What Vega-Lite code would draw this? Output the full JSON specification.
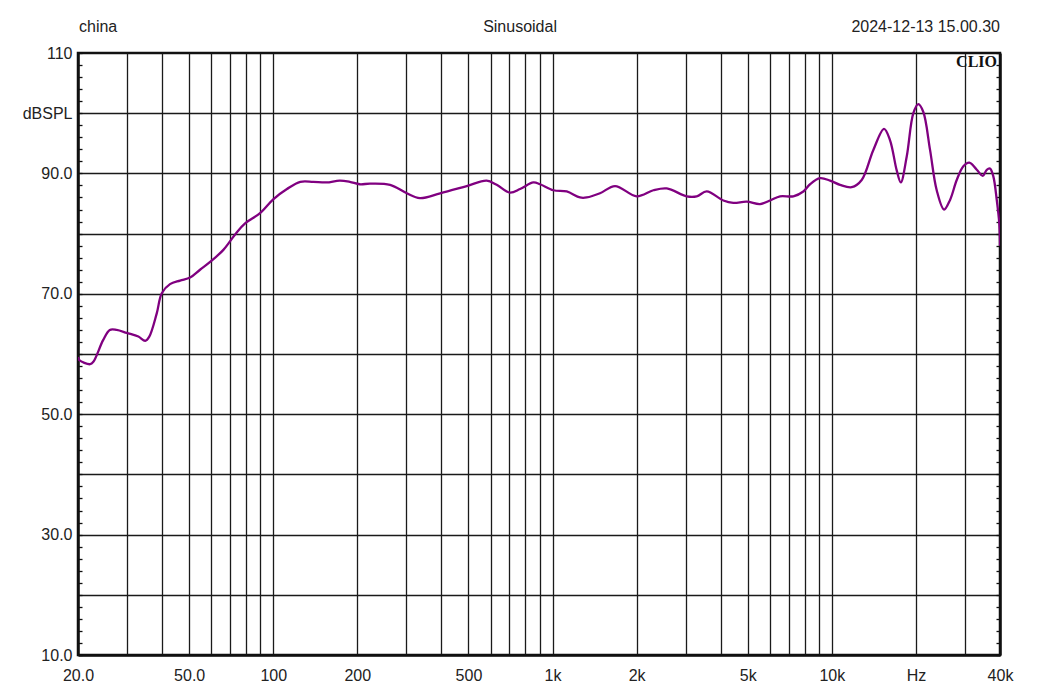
{
  "$schema": "https://vega.github.io/schema/vega-lite/v6.json",
  "width": 922,
  "height": 602,
  "autosize": "none",
  "padding": {"left": 78, "top": 53, "right": 40, "bottom": 33},
  "background": "white",
  "config": {
    "view": {"stroke": "#111111", "strokeWidth": 2.5},
    "font": "Liberation Sans"
  },
  "layer": [
    {
      "data": {
        "values": [
          {"f": 20, "db": 59.5}, {"f": 20.2, "db": 59.0}, {"f": 22.1, "db": 58.3}, {"f": 22.7, "db": 58.7},
          {"f": 24.6, "db": 62.3}, {"f": 26.0, "db": 64.0}, {"f": 27.5, "db": 64.0}, {"f": 29.9, "db": 63.5},
          {"f": 32.9, "db": 62.9}, {"f": 34.8, "db": 62.2}, {"f": 36.0, "db": 62.9}, {"f": 38.3, "db": 66.8},
          {"f": 39.9, "db": 70.1}, {"f": 42.7, "db": 71.6}, {"f": 46.4, "db": 72.2}, {"f": 50.4, "db": 72.7},
          {"f": 54.7, "db": 74.0}, {"f": 60.2, "db": 75.5}, {"f": 66.3, "db": 77.3}, {"f": 70.0, "db": 78.7},
          {"f": 74.0, "db": 80.2}, {"f": 79.3, "db": 81.7}, {"f": 89.7, "db": 83.4}, {"f": 100, "db": 85.7},
          {"f": 112, "db": 87.4}, {"f": 125, "db": 88.6}, {"f": 139, "db": 88.6}, {"f": 155, "db": 88.5},
          {"f": 173, "db": 88.8}, {"f": 188, "db": 88.6}, {"f": 204, "db": 88.2}, {"f": 222, "db": 88.3},
          {"f": 262, "db": 88.1}, {"f": 301, "db": 86.7}, {"f": 335, "db": 85.9}, {"f": 396, "db": 86.7},
          {"f": 493, "db": 87.9}, {"f": 581, "db": 88.8}, {"f": 631, "db": 88.1}, {"f": 704, "db": 86.8},
          {"f": 765, "db": 87.4}, {"f": 854, "db": 88.5}, {"f": 902, "db": 88.2}, {"f": 1007, "db": 87.2},
          {"f": 1124, "db": 87.0}, {"f": 1254, "db": 86.0}, {"f": 1325, "db": 86.0}, {"f": 1479, "db": 86.7},
          {"f": 1674, "db": 87.9}, {"f": 2002, "db": 86.2}, {"f": 2296, "db": 87.2}, {"f": 2564, "db": 87.5},
          {"f": 3023, "db": 86.2}, {"f": 3283, "db": 86.2}, {"f": 3565, "db": 87.0}, {"f": 4088, "db": 85.5},
          {"f": 4438, "db": 85.1}, {"f": 4957, "db": 85.3}, {"f": 5532, "db": 84.9}, {"f": 6008, "db": 85.5},
          {"f": 6524, "db": 86.2}, {"f": 7280, "db": 86.2}, {"f": 7908, "db": 87.0}, {"f": 8355, "db": 88.2},
          {"f": 9072, "db": 89.2}, {"f": 9851, "db": 88.8}, {"f": 10700, "db": 88.1}, {"f": 11780, "db": 87.7},
          {"f": 12790, "db": 88.9}, {"f": 14080, "db": 93.9}, {"f": 15380, "db": 97.4}, {"f": 16160, "db": 95.5},
          {"f": 17070, "db": 90.5}, {"f": 17650, "db": 88.5}, {"f": 18540, "db": 92.8}, {"f": 19580, "db": 100.0},
          {"f": 20400, "db": 101.5}, {"f": 21260, "db": 100.2}, {"f": 22470, "db": 93.9}, {"f": 23740, "db": 87.2},
          {"f": 25220, "db": 84.0}, {"f": 26500, "db": 85.6}, {"f": 28000, "db": 88.9}, {"f": 29570, "db": 91.2},
          {"f": 31060, "db": 91.8}, {"f": 33030, "db": 90.6}, {"f": 34700, "db": 89.6}, {"f": 35860, "db": 90.6},
          {"f": 36840, "db": 90.8}, {"f": 37860, "db": 89.5}, {"f": 38940, "db": 85.6}, {"f": 39760, "db": 81.7},
          {"f": 40000, "db": 78.0}
        ]
      },
      "mark": {"type": "line", "color": "#800080", "strokeWidth": 2.3, "interpolate": "catmull-rom", "clip": true},
      "encoding": {
        "x": {
          "field": "f",
          "type": "quantitative",
          "scale": {"type": "log", "domain": [20, 40000], "nice": false},
          "axis": {
            "values": [20, 30, 40, 50, 60, 70, 80, 90, 100, 200, 300, 400, 500, 600, 700, 800, 900, 1000, 2000, 3000, 4000, 5000, 6000, 7000, 8000, 9000, 10000, 20000, 30000, 40000],
            "title": null,
            "grid": true,
            "gridColor": "#1a1a1a",
            "gridWidth": 1.3,
            "gridOpacity": {"condition": {"test": "datum.value == 20 || datum.value == 40000", "value": 0}, "value": 1},
            "ticks": false,
            "domain": true,
            "domainColor": "#111111",
            "domainWidth": 2.5,
            "labelExpr": "datum.value==20?'20.0':datum.value==50?'50.0':datum.value==100?'100':datum.value==200?'200':datum.value==500?'500':datum.value==1000?'1k':datum.value==2000?'2k':datum.value==5000?'5k':datum.value==10000?'10k':datum.value==20000?'Hz':datum.value==40000?'40k':''",
            "labelFlush": false,
            "labelOverlap": false,
            "labelBound": false,
            "labelPadding": 12,
            "labelFontSize": 16,
            "labelColor": "#222222",
            "labelFont": "Liberation Sans"
          }
        },
        "y": {
          "field": "db",
          "type": "quantitative",
          "scale": {"domain": [10, 110], "nice": false, "zero": false},
          "axis": {
            "values": [10, 12, 14, 16, 18, 20, 22, 24, 26, 28, 30, 32, 34, 36, 38, 40, 42, 44, 46, 48, 50, 52, 54, 56, 58, 60, 62, 64, 66, 68, 70, 72, 74, 76, 78, 80, 82, 84, 86, 88, 90, 92, 94, 96, 98, 100, 102, 104, 106, 108, 110],
            "title": null,
            "grid": true,
            "gridColor": "#1a1a1a",
            "gridWidth": 1.3,
            "gridOpacity": {"condition": {"test": "datum.value % 10 == 0 && datum.value > 10 && datum.value < 110", "value": 1}, "value": 0},
            "ticks": true,
            "tickSize": -4,
            "tickColor": "#111111",
            "tickWidth": 1.3,
            "domain": true,
            "domainColor": "#111111",
            "domainWidth": 2.5,
            "labelExpr": "datum.value==110?'110':datum.value==100?'dBSPL':(datum.value%20==10?format(datum.value,'.1f'):'')",
            "labelFlush": false,
            "labelOverlap": false,
            "labelBound": false,
            "labelPadding": 10,
            "labelFontSize": 16,
            "labelColor": "#222222",
            "labelFont": "Liberation Sans",
            "labelBaseline": "middle"
          }
        }
      }
    },
    {
      "data": {"values": [{"label": "CLIO"}]},
      "mark": {"type": "text", "font": "Liberation Serif", "fontWeight": "bold", "fontSize": 16, "align": "right", "baseline": "middle", "dx": -3, "color": "#111111"},
      "encoding": {
        "text": {"field": "label"},
        "x": {"datum": 40000, "type": "quantitative"},
        "y": {
          "datum": 108.55,
          "type": "quantitative",
          "axis": {
            "orient": "right",
            "values": [10, 12, 14, 16, 18, 20, 22, 24, 26, 28, 30, 32, 34, 36, 38, 40, 42, 44, 46, 48, 50, 52, 54, 56, 58, 60, 62, 64, 66, 68, 70, 72, 74, 76, 78, 80, 82, 84, 86, 88, 90, 92, 94, 96, 98, 100, 102, 104, 106, 108, 110],
            "title": null,
            "grid": false,
            "labels": false,
            "ticks": true,
            "tickSize": -4,
            "tickColor": "#111111",
            "tickWidth": 1.3,
            "domain": true,
            "domainColor": "#111111",
            "domainWidth": 2.5
          }
        }
      }
    },
    {
      "data": {"values": [{"label": "china"}]},
      "mark": {"type": "text", "fontSize": 16, "font": "Liberation Sans", "align": "left", "baseline": "middle", "dx": 1, "color": "#222222"},
      "encoding": {
        "text": {"field": "label"},
        "x": {"datum": 20, "type": "quantitative"},
        "y": {"datum": 114.3, "type": "quantitative", "axis": null}
      }
    },
    {
      "data": {"values": [{"label": "Sinusoidal"}]},
      "mark": {"type": "text", "fontSize": 16, "font": "Liberation Sans", "align": "center", "baseline": "middle", "color": "#222222"},
      "encoding": {
        "text": {"field": "label"},
        "x": {"datum": 765, "type": "quantitative"},
        "y": {"datum": 114.3, "type": "quantitative", "axis": null}
      }
    },
    {
      "data": {"values": [{"label": "2024-12-13 15.00.30"}]},
      "mark": {"type": "text", "fontSize": 16, "font": "Liberation Sans", "align": "right", "baseline": "middle", "dx": 0, "color": "#222222"},
      "encoding": {
        "text": {"field": "label"},
        "x": {"datum": 40000, "type": "quantitative"},
        "y": {"datum": 114.3, "type": "quantitative", "axis": null}
      }
    }
  ],
  "resolve": {"axis": {"y": "independent"}}
}
